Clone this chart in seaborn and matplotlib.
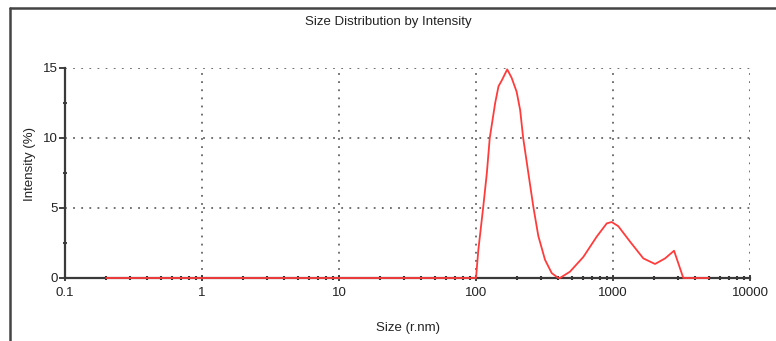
import seaborn as sns
import matplotlib.pyplot as plt
import matplotlib.ticker as mticker
from matplotlib.lines import Line2D
import pandas as pd

# Size distribution by intensity
sizes = [0.2, 100, 104, 113, 120, 126, 138, 146, 154, 169, 182, 198, 210,
         221, 241, 262, 285, 319, 357, 399, 410, 485, 607, 760, 900, 978,
         1093, 1331, 1665, 2027, 2400, 2790, 3260, 5000]
intensity = [0, 0, 2.0, 5.1, 7.5, 10.0, 12.5, 13.7, 14.1, 14.9, 14.3, 13.3, 12.0,
             10.0, 7.5, 5.1, 3.0, 1.3, 0.35, 0, 0, 0.45, 1.5, 2.95, 3.9, 4.0,
             3.7, 2.6, 1.4, 1.0, 1.4, 1.95, 0, 0]
x_ticks = [0.1, 1, 10, 100, 1000, 10000]
x_tick_labels = ["0.1", "1", "10", "100", "1000", "10000"]
y_ticks = [0, 5, 10, 15]

data = pd.DataFrame({"Size": sizes, "Intensity": intensity})

sns.set_style("white")
plt.rcParams['font.family'] = ['Liberation Sans', 'DejaVu Sans']

W, H = 776, 341
fig = plt.figure(figsize=(W / 100, H / 100), dpi=100)
ax = fig.add_axes([65 / W, 1 - 278 / H, 685 / W, 210 / H])

ax.set_xscale('log')
sns.lineplot(x="Size", y="Intensity", data=data, ax=ax, color='#ff3c3c',
             linewidth=1.3, zorder=5, clip_on=False)

ax.set_xlim(0.1, 10000)
ax.set_ylim(0, 15)

# dotted grid
grid_kw = dict(color='#666666', linestyle=(0, (1, 3.5)), linewidth=1.3)
ax.grid(True, which='major', **grid_kw)
ax.set_axisbelow(True)

for s in ['top', 'right']:
    ax.spines[s].set_visible(False)
for s in ['left', 'bottom']:
    ax.spines[s].set_color('#3a3a3a')
    ax.spines[s].set_linewidth(1.6)

ax.set_xticks(x_ticks)
ax.set_xticklabels(x_tick_labels)
ax.xaxis.set_minor_locator(mticker.LogLocator(base=10, subs=range(2, 10), numticks=20))
ax.xaxis.set_minor_formatter(mticker.NullFormatter())
ax.set_yticks(y_ticks)
ax.yaxis.set_minor_locator(mticker.MultipleLocator(2.5))

# seaborn "white" style switches the ticks off
ax.tick_params(which='both', bottom=True, left=True)
ax.tick_params(axis='x', which='major', direction='inout', length=5, width=1.3,
               color='#333333', labelsize=9.5, labelcolor='#222222', pad=4)
ax.tick_params(axis='x', which='minor', direction='inout', length=3, width=1.5,
               color='#333333')
ax.tick_params(axis='y', which='major', direction='out', length=4, width=1.3,
               color='#333333', labelsize=9.5, labelcolor='#222222', pad=1)
ax.tick_params(axis='y', which='minor', direction='inout', length=3, width=1.3,
               color='#333333')

ax.set_xlabel('Size (r.nm)', fontsize=9.5, color='#222222')
ax.set_ylabel('Intensity (%)', fontsize=9.5, color='#222222')
ax.xaxis.set_label_coords(0.5, -0.21)
ax.yaxis.set_label_coords(-0.042, 0.543)

fig.text(0.5, 1 - 22 / H, 'Size Distribution by Intensity', ha='center',
         va='center', fontsize=9.5, color='#222222')

# outer frame (only left and top edges visible in the crop)
fig.add_artist(Line2D([10 / W, 10 / W], [0, 1 - 8 / H], transform=fig.transFigure,
                      color='#444444', linewidth=1.8))
fig.add_artist(Line2D([10 / W, 1], [1 - 8 / H, 1 - 8 / H], transform=fig.transFigure,
                      color='#444444', linewidth=1.8))

fig.savefig('out.png', dpi=100)
